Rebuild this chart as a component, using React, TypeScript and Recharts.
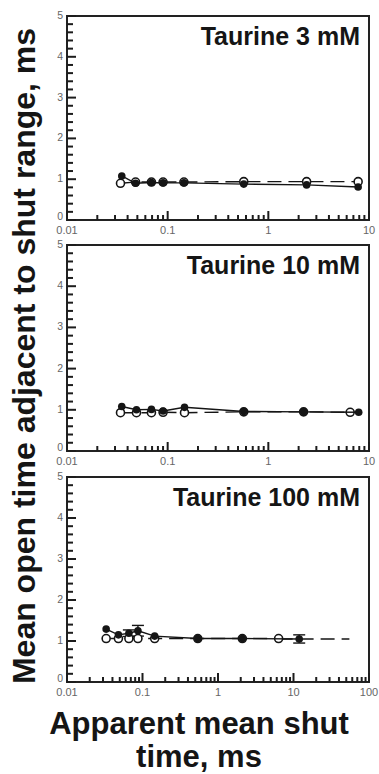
import React from "react";
import { ScatterChart, Scatter, XAxis, YAxis, ReferenceArea, ErrorBar } from "recharts";

// Taurine 3 mM
const p1FilledX = [0.035, 0.048, 0.069, 0.09, 0.145, 0.57, 2.4, 7.8];
const p1FilledY = [1.08, 0.9, 0.92, 0.91, 0.91, 0.88, 0.86, 0.81];
const p1OpenX = [0.034, 0.048, 0.069, 0.09, 0.145, 0.57, 2.4, 7.8];
const p1OpenY = [0.9, 0.93, 0.93, 0.93, 0.93, 0.94, 0.94, 0.94];

// Taurine 10 mM
const p2FilledX = [0.035, 0.049, 0.069, 0.09, 0.147, 0.57, 2.24, 7.9];
const p2FilledY = [1.08, 1.0, 1.01, 0.97, 1.06, 0.96, 0.95, 0.94];
const p2OpenX = [0.034, 0.049, 0.069, 0.09, 0.147, 0.57, 2.24, 6.5];
const p2OpenY = [0.93, 0.93, 0.93, 0.94, 0.93, 0.95, 0.95, 0.94];

// Taurine 100 mM
const p3FilledX = [0.033, 0.048, 0.066, 0.087, 0.145, 0.54, 2.1, 11.9];
const p3FilledY = [1.29, 1.15, 1.19, 1.25, 1.12, 1.06, 1.06, 1.05];
const p3FilledErr = [0, 0, 0.08, 0.13, 0, 0, 0, 0.1];
const p3OpenX = [0.033, 0.048, 0.066, 0.087, 0.145, 0.54, 2.1, 6.35];
const p3OpenY = [1.06, 1.06, 1.06, 1.06, 1.06, 1.06, 1.06, 1.06];
const p3TailX = [6.35, 55];
const p3TailY = [1.05, 1.05];

// axes
const decades3 = [0.01, 0.1, 1, 10];
const decades4 = [0.01, 0.1, 1, 10, 100];
const minorSteps = [2, 3, 4, 5, 6, 7, 8, 9];
const yMajor = [0, 1, 2, 3, 4, 5];
const yMinorSteps = [0.2, 0.4, 0.6, 0.8];

const FONT = "'Liberation Sans', Arial, Helvetica, sans-serif";
const INK = "#151515";
const TICK = "#1c1c1c";

const pts = (xs: number[], ys: number[], errs?: number[]) =>
  xs.map((x, i) => ({ x, y: ys[i], err: errs ? errs[i] : 0 }));

const yTicks = yMajor.flatMap((v) => (v < 5 ? [v, ...yMinorSteps.map((s) => v + s)] : [v]));

function Panel({ top, plotH, title, decades, filled, open, tail }: any) {
  const xMax = decades[decades.length - 1];
  const xTicks = decades.flatMap((d: number) =>
    d < xMax ? [d, ...minorSteps.map((m) => d * m)] : [d]
  );
  // ticks point inwards, only decades get a label
  const XTick = (p: any) => {
    const v = p.payload.value;
    const major = decades.includes(v);
    return (
      <g>
        <line x1={p.x} x2={p.x} y1={p.y} y2={p.y - (major ? 9 : 5)} stroke={TICK} strokeWidth={2} />
        {major && (
          <text x={p.x} y={p.y + 14} textAnchor="middle" fontSize={11} fill="#666" fontFamily={FONT}>
            {String(v)}
          </text>
        )}
      </g>
    );
  };
  const YTick = (p: any) => {
    const v = p.payload.value;
    const major = Number.isInteger(Math.round(v * 1000) / 1000);
    return (
      <g>
        <line x1={p.x} x2={p.x + (major ? 9 : 6)} y1={p.y} y2={p.y} stroke={TICK} strokeWidth={2} />
        {major && (
          <text
            x={p.x - 4}
            y={v === 0 ? p.y : p.y + 3}
            textAnchor="end"
            fontSize={10.5}
            fill="#666"
            fontFamily={FONT}
          >
            {String(v)}
          </text>
        )}
      </g>
    );
  };
  return (
    <div style={{ position: "absolute", left: 0, top }}>
      <ScatterChart width={379} height={16 + plotH + 20} margin={{ top: 16, right: 10, bottom: 0, left: 47 }}>
        <XAxis
          type="number"
          dataKey="x"
          scale="log"
          domain={[0.01, xMax]}
          ticks={xTicks}
          interval={0}
          tickSize={0}
          tickMargin={0}
          axisLine={false}
          tickLine={false}
          tick={XTick}
          height={20}
          allowDataOverflow
        />
        <YAxis
          type="number"
          dataKey="y"
          domain={[0, 5]}
          ticks={yTicks}
          interval={0}
          tickSize={0}
          tickMargin={0}
          axisLine={false}
          tickLine={false}
          tick={YTick}
          width={20}
        />
        <ReferenceArea x1={0.01} x2={xMax} y1={0} y2={5} fill="none" stroke="#222" strokeWidth={2} />
        {tail && (
          <Scatter
            data={tail}
            isAnimationActive={false}
            line={{ stroke: INK, strokeWidth: 1.4, strokeDasharray: "14 7" }}
            shape={() => <g />}
          />
        )}
        <Scatter
          data={open}
          isAnimationActive={false}
          line={{ stroke: INK, strokeWidth: 1.4, strokeDasharray: "14 7" }}
          shape={(p: any) => <circle cx={p.cx} cy={p.cy} r={4} fill="#fff" stroke={INK} strokeWidth={1.6} />}
        />
        <Scatter
          data={filled}
          isAnimationActive={false}
          line={{ stroke: INK, strokeWidth: 1.4 }}
          shape={(p: any) => <circle cx={p.cx} cy={p.cy} r={3.8} fill={INK} />}
        >
          <ErrorBar dataKey="err" direction="y" width={6} stroke={INK} strokeWidth={1.4} />
        </Scatter>
      </ScatterChart>
      <svg
        width={379}
        height={16 + plotH}
        style={{ position: "absolute", left: 0, top: 0, pointerEvents: "none" }}
      >
        <text x={360} y={16 + 29} textAnchor="end" fontSize={25} fontWeight="bold" fill={INK} fontFamily={FONT}>
          {title}
        </text>
      </svg>
    </div>
  );
}

export default function App() {
  return (
    <div style={{ position: "absolute", left: 0, top: 0, width: 379, height: 774, background: "#fff" }}>
      <Panel
        top={0}
        plotH={204}
        title="Taurine 3 mM"
        decades={decades3}
        filled={pts(p1FilledX, p1FilledY)}
        open={pts(p1OpenX, p1OpenY)}
      />
      <Panel
        top={229}
        plotH={206}
        title="Taurine 10 mM"
        decades={decades3}
        filled={pts(p2FilledX, p2FilledY)}
        open={pts(p2OpenX, p2OpenY)}
      />
      <Panel
        top={461}
        plotH={205}
        title="Taurine 100 mM"
        decades={decades4}
        filled={pts(p3FilledX, p3FilledY, p3FilledErr)}
        open={pts(p3OpenX, p3OpenY)}
        tail={pts(p3TailX, p3TailY)}
      />
      <svg width={379} height={774} style={{ position: "absolute", left: 0, top: 0, pointerEvents: "none" }}>
        <text
          transform="translate(35, 356) rotate(-90)"
          textAnchor="middle"
          fontSize={32}
          fontWeight="bold"
          fill={INK}
          fontFamily={FONT}
        >
          Mean open time adjacent to shut range, ms
        </text>
        <text x={199} y={734} textAnchor="middle" fontSize={31} fontWeight="bold" fill={INK} fontFamily={FONT}>
          Apparent mean shut
        </text>
        <text x={199} y={767} textAnchor="middle" fontSize={31} fontWeight="bold" fill={INK} fontFamily={FONT}>
          time, ms
        </text>
      </svg>
    </div>
  );
}
